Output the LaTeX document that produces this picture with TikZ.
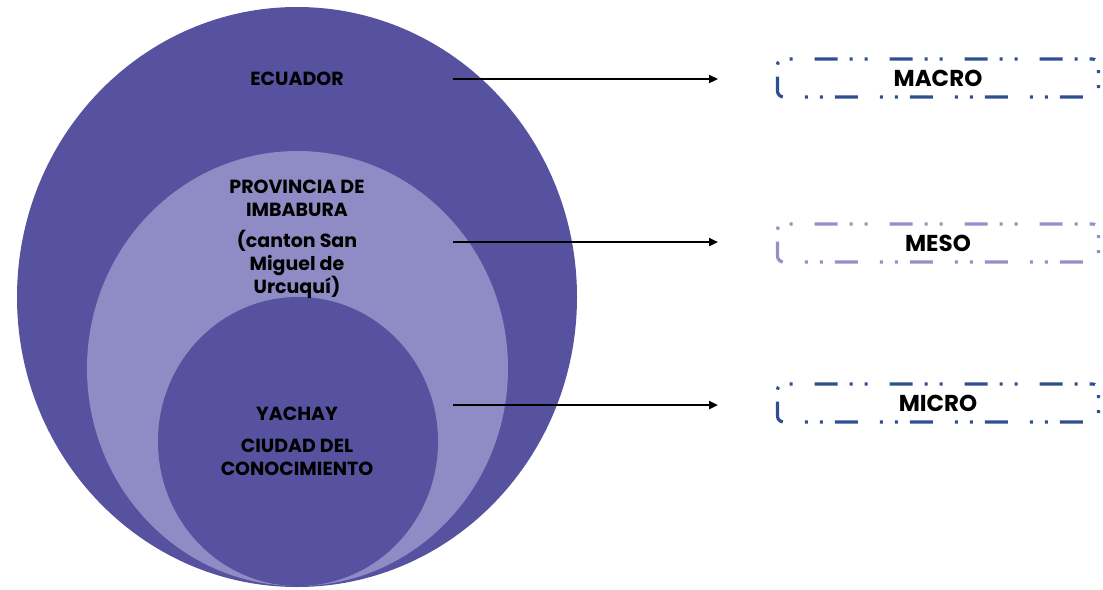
\documentclass[tikz,border=0pt]{standalone}
\usepackage{fontspec}
\setmainfont{Poppins}
\usetikzlibrary{arrows.meta}
\definecolor{darkp}{HTML}{57529F}
\definecolor{lightp}{HTML}{8F8BC4}
\definecolor{boxblue}{HTML}{2F5090}
\definecolor{boxlight}{HTML}{9490C8}
\tikzset{
  lbl/.style={font=\fontsize{19}{23}\selectfont\bfseries, text=black, align=center, inner sep=0pt},
  boxlbl/.style={font=\fontsize{23}{27}\selectfont\bfseries, text=black},
  levelbox/.style={draw, rounded corners=6pt, line width=3.2pt, minimum width=321pt, minimum height=38pt,
    dash pattern=on 3pt off 12pt on 3pt off 12pt on 23pt off 22pt},
  conn/.style={line width=2.4pt, -{Triangle[length=9pt,width=8pt]}}
}
\begin{document}
\begin{tikzpicture}[x=1pt,y=-1pt]
\useasboundingbox (0,0) rectangle (1103,589);
\fill[darkp] (297,297) ellipse [x radius=280pt, y radius=290pt];
\fill[lightp] (297.5,368.5) ellipse [x radius=210.5pt, y radius=217.5pt];
\fill[darkp] (298,441.5) ellipse [x radius=140pt, y radius=144.5pt];

\node[lbl] (ecuador) at (297,79) {ECUADOR};
\node[lbl] (provincia) at (297,198.5) {PROVINCIA DE\\IMBABURA};
\node[lbl] (canton) at (297,264) {(canton San\\Miguel de\\Urcuquí)};
\node[lbl] (yachay) at (297,414) {YACHAY};
\node[lbl] (ciudad) at (297,457) {CIUDAD DEL\\CONOCIMIENTO};

\node[levelbox, draw=boxblue, boxlbl] (macro) at (938,78) {MACRO};
\node[levelbox, draw=boxlight, boxlbl] (meso) at (938,243) {MESO};
\node[levelbox, draw=boxblue, boxlbl] (micro) at (938,403) {MICRO};

\coordinate (s1) at (453,79);
\coordinate (e1) at (718,79);
\coordinate (s2) at (453,242);
\coordinate (e2) at (718,242);
\coordinate (s3) at (453,405);
\coordinate (e3) at (718,405);
\draw[conn] (s1) -- (e1);
\draw[conn] (s2) -- (e2);
\draw[conn] (s3) -- (e3);
\end{tikzpicture}
\end{document}
